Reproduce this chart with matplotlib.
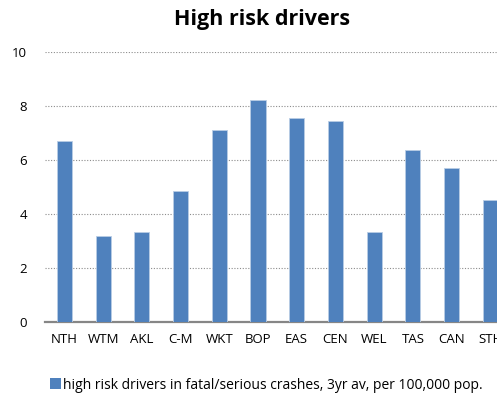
import matplotlib.pyplot as plt
from matplotlib.patches import Patch

regions = ['NTH', 'WTM', 'AKL', 'C-M', 'WKT', 'BOP', 'EAS', 'CEN', 'WEL', 'TAS', 'CAN', 'STH']
values = [6.7, 3.2, 3.35, 4.85, 7.1, 8.2, 7.55, 7.45, 3.35, 6.35, 5.7, 4.5]
series_name = 'high risk drivers in fatal/serious crashes, 3yr av, per 100,000 pop.'

plt.rcParams['font.family'] = ['Open Sans', 'DejaVu Sans']

fig = plt.figure(figsize=(4.97, 3.99), dpi=100)
ax = fig.add_axes([0.0905, 0.193, 0.935, 0.677])

x = list(range(len(regions)))
ax.bar(x, values, width=0.39, color='#4F81BD', edgecolor='#B9CDE5', linewidth=0.6, zorder=3)

ax.set_xlim(-0.5, len(regions) - 0.5)
ax.set_ylim(0, 10)
ax.set_yticks([0, 2, 4, 6, 8, 10])
ax.set_xticks(x)
ax.set_xticklabels(regions)
ax.tick_params(axis='both', length=0, labelsize=9.5, colors='black')
ax.tick_params(axis='x', pad=8)
ax.tick_params(axis='y', pad=13)
ax.grid(axis='y', linestyle=(0, (1, 1.5)), color='#8C8C8C', linewidth=0.8, zorder=0)

for side in ['top', 'right', 'left']:
    ax.spines[side].set_visible(False)
ax.spines['bottom'].set_color('#868686')
ax.spines['bottom'].set_linewidth(1.6)

fig.text(0.527, 0.952, 'High risk drivers', ha='center', va='center', fontsize=15.5, fontweight='bold')

handle = Patch(facecolor='#4F81BD', edgecolor='none')
fig.legend([handle], [series_name], loc='center left', bbox_to_anchor=(0.075, 0.035),
           frameon=False, fontsize=10, handlelength=0.8, handleheight=0.8, handletextpad=0.15)

fig.savefig('out.png', dpi=100)
